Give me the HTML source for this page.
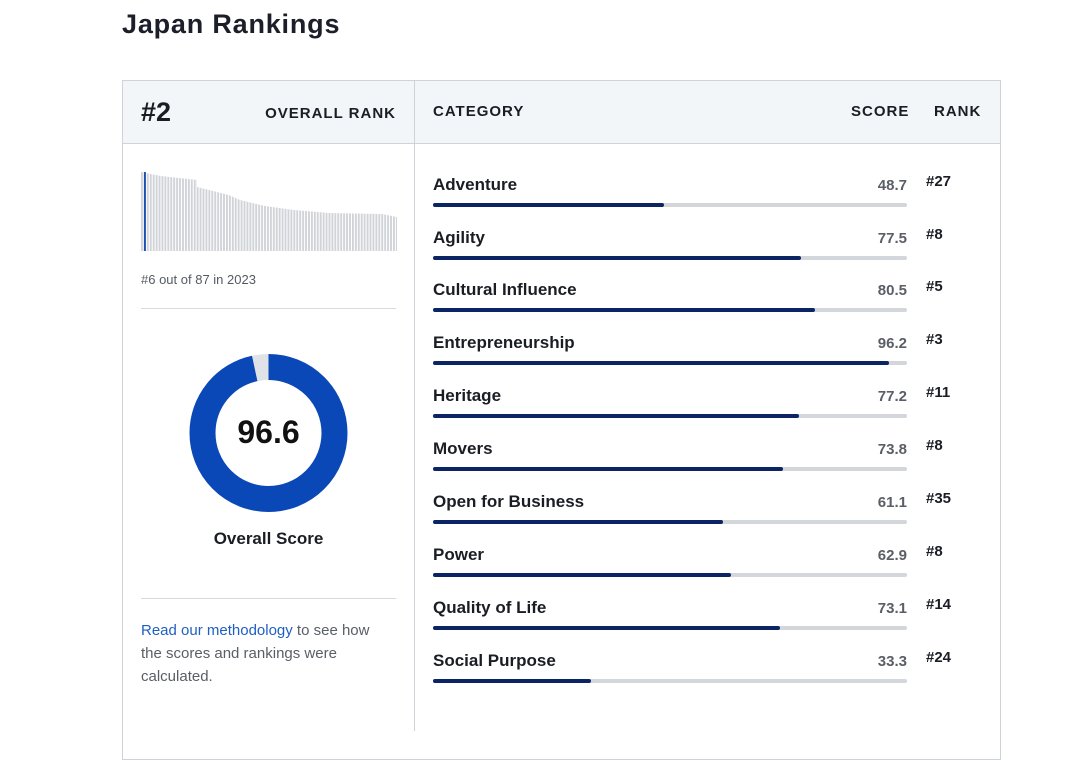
<!DOCTYPE html>
<html><head><meta charset="utf-8"><style>
*{margin:0;padding:0;box-sizing:border-box}
body{width:1072px;height:724px;background:#fff;position:relative;overflow:hidden;font-family:"Liberation Sans",sans-serif;color:#1a1d24}
.a{position:absolute;white-space:nowrap}
.hdr{font-weight:bold;font-size:15px;letter-spacing:1px}
.cat{font-weight:bold;font-size:17px;left:433px}
.sc{font-weight:bold;font-size:15px;color:#5a5e66;right:165px;text-align:right}
.rk{font-weight:bold;font-size:15px;left:926px}
.tr{position:absolute;left:433px;width:474px;height:4px;background:#d3d6da;border-radius:2px}
.tr i{display:block;height:4px;background:#0b2463;border-radius:2px}
</style></head><body>
<div class="a" style="left:122px;top:9px;font-size:27px;font-weight:bold;color:#1c1f2a;letter-spacing:0.8px">Japan Rankings</div>
<div class="a" style="left:122px;top:80px;width:879px;height:680px;border:1px solid #cfd3d8"></div>
<div class="a" style="left:123px;top:81px;width:877px;height:63px;background:#f3f6f9;border-bottom:1px solid #cfd3d8"></div>
<div class="a" style="left:414px;top:81px;width:1px;height:650px;background:#cfd3d8"></div>
<div class="a" style="left:141px;top:97px;font-size:27px;font-weight:bold">#2</div>
<div class="a hdr" style="right:676px;top:105px">OVERALL RANK</div>
<div class="a hdr" style="left:433px;top:103px">CATEGORY</div>
<div class="a hdr" style="left:851px;top:103px">SCORE</div>
<div class="a hdr" style="left:934px;top:103px">RANK</div>
<svg class="a" style="left:141px;top:170px" width="256" height="81">
<defs><pattern id="p" width="2.93" height="81" patternUnits="userSpaceOnUse"><rect width="1.9" height="81" fill="#d0d3d8"/></pattern></defs>
<rect x="0" y="0" width="256" height="81" fill="url(#p)"/>
<polygon fill="#fff" points="0,0 256,0 256,47 241,44 188,43 153,40 124,36 99,30 88,25 56,17 56,10 20,6 10,4 0,2"/>
<rect x="2.9" y="2" width="2" height="79" fill="#1f4fb0"/>
</svg>
<div class="a" style="left:141px;top:272px;font-size:13px;color:#555a62">#6 out of 87 in 2023</div>
<div class="a" style="left:141px;top:308px;width:255px;height:1px;background:#d6d9dd"></div>
<svg class="a" style="left:189px;top:354px" width="160" height="160">
<circle cx="79.5" cy="79" r="66" fill="none" stroke="#dfe3e8" stroke-width="26"/>
<circle cx="79.5" cy="79" r="66" fill="none" stroke="#0a48b8" stroke-width="26" stroke-dasharray="400.6 414.7" transform="rotate(-90 79.5 79)"/>
</svg>
<div class="a" style="left:189px;top:414px;width:159px;text-align:center;font-size:32px;font-weight:bold;color:#111">96.6</div>
<div class="a" style="left:189px;top:529px;width:159px;text-align:center;font-size:17px;font-weight:bold">Overall Score</div>
<div class="a" style="left:141px;top:598px;width:255px;height:1px;background:#d6d9dd"></div>
<div class="a" style="left:141px;top:619px;font-size:15px;line-height:23px;color:#5a5e66;white-space:normal;width:245px"><span style="color:#1f5fc4">Read our methodology</span> to see how the scores and rankings were calculated.</div>

<div class="a cat" style="top:175px">Adventure</div><div class="a sc" style="top:177px">48.7</div><div class="a rk" style="top:173px">#27</div><div class="tr" style="top:203px"><i style="width:231px"></i></div>
<div class="a cat" style="top:228px">Agility</div><div class="a sc" style="top:230px">77.5</div><div class="a rk" style="top:226px">#8</div><div class="tr" style="top:256px"><i style="width:368px"></i></div>
<div class="a cat" style="top:280px">Cultural Influence</div><div class="a sc" style="top:282px">80.5</div><div class="a rk" style="top:278px">#5</div><div class="tr" style="top:308px"><i style="width:382px"></i></div>
<div class="a cat" style="top:333px">Entrepreneurship</div><div class="a sc" style="top:335px">96.2</div><div class="a rk" style="top:331px">#3</div><div class="tr" style="top:361px"><i style="width:456px"></i></div>
<div class="a cat" style="top:386px">Heritage</div><div class="a sc" style="top:388px">77.2</div><div class="a rk" style="top:384px">#11</div><div class="tr" style="top:414px"><i style="width:366px"></i></div>
<div class="a cat" style="top:439px">Movers</div><div class="a sc" style="top:441px">73.8</div><div class="a rk" style="top:437px">#8</div><div class="tr" style="top:467px"><i style="width:350px"></i></div>
<div class="a cat" style="top:492px">Open for Business</div><div class="a sc" style="top:494px">61.1</div><div class="a rk" style="top:490px">#35</div><div class="tr" style="top:520px"><i style="width:290px"></i></div>
<div class="a cat" style="top:545px">Power</div><div class="a sc" style="top:547px">62.9</div><div class="a rk" style="top:543px">#8</div><div class="tr" style="top:573px"><i style="width:298px"></i></div>
<div class="a cat" style="top:598px">Quality of Life</div><div class="a sc" style="top:600px">73.1</div><div class="a rk" style="top:596px">#14</div><div class="tr" style="top:626px"><i style="width:347px"></i></div>
<div class="a cat" style="top:651px">Social Purpose</div><div class="a sc" style="top:653px">33.3</div><div class="a rk" style="top:649px">#24</div><div class="tr" style="top:679px"><i style="width:158px"></i></div>
</body></html>
